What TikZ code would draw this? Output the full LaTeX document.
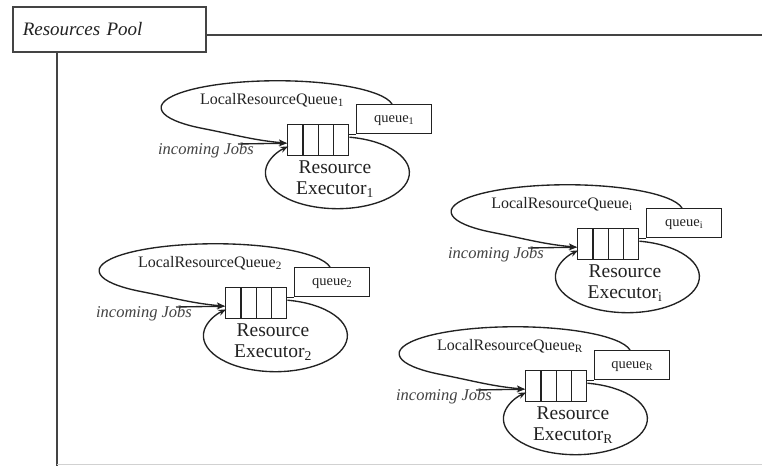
\documentclass[tikz,border=0pt]{standalone}
\usepackage{fontspec}
\setmainfont{Liberation Serif}
\usetikzlibrary{arrows.meta,calc}
\definecolor{ink}{HTML}{222222}
\definecolor{frameink}{HTML}{444444}
\tikzset{
  frameline/.style={line width=2pt, draw=frameink},
  titlebox/.style={draw=frameink, line width=1.6pt, anchor=north west, minimum width=193pt, minimum height=45pt,
    inner xsep=10pt, text width=173pt, align=left, font=\fontsize{19}{21}\selectfont\itshape, text=ink},
  qbox/.style={draw=ink, line width=1.4pt, minimum width=61pt, minimum height=31pt, inner sep=0pt, anchor=north west,
    path picture={\foreach \k in {1,2,3}{\draw[ink, line width=1.3pt]
      ($(path picture bounding box.north west)!\k/4!(path picture bounding box.north east)$) --
      ($(path picture bounding box.south west)!\k/4!(path picture bounding box.south east)$);}}},
  lbox/.style={draw=ink, line width=1.4pt, minimum width=75pt, minimum height=29pt, inner sep=0pt, anchor=north west,
    text height=8pt, text depth=1.5pt, font=\fontsize{14.5}{16}\selectfont, text=ink},
  lrqtext/.style={inner sep=0pt, font=\fontsize{16}{18}\selectfont, text=ink},
  exectext/.style={inner sep=0pt, align=center, font=\fontsize{19.5}{21}\selectfont, text=ink},
  inctext/.style={inner sep=0pt, font=\fontsize{16.5}{18}\selectfont\itshape, text=ink!85},
  ringline/.style={draw=ink, line width=1.35pt},
  stubline/.style={draw=ink, line width=1.3pt},
  tip/.style={-{Stealth[length=8pt,width=6pt]}}
}
\newcommand{\rpunit}[3]{%
\begin{scope}[shift={#2}]
  \node[qbox] (q#1) at (0,0) {};
  \node[lbox] (l#1) at (69,20) {queue\textsubscript{#3}};
  \node[lrqtext] (t#1) at (-15,24) {LocalResourceQueue\textsubscript{#3}};
  \node[exectext] (e#1) at (48,-55.5) {Resource\\Executor\textsubscript{#3}};
  \node[inctext] (i#1) at (-81,-27) {incoming Jobs};
  \coordinate (s#1) at (-49,-20);
  \draw[stubline] (q#1.north east |- l#1.south west) -- (l#1.south west);
  \draw[ringline,tip] ([xshift=36pt]l#1.north west)
     arc[start angle=8, end angle=230, x radius=116pt, y radius=27pt]
     to[out=-11, in=175] ([yshift=-3pt]q#1.west);
  \draw[ringline,tip] ([yshift=3pt]q#1.east)
     arc[start angle=80.4, end angle=-227, x radius=72pt, y radius=36pt];
  \draw[ringline,tip] (s#1) -- ([yshift=-3pt]q#1.west);
\end{scope}}
\begin{document}
\begin{tikzpicture}[x=1pt,y=1pt]
  \useasboundingbox (0,0) rectangle (762,466);
  \fill[white] (0,0) rectangle (762,466);
  % frame
  \node[titlebox] (title) at (12,460) {Resources Pool};
  \coordinate (tr) at (762,431);
  \coordinate (bl) at (57,0);
  \coordinate (br) at (762,1.5);
  \draw[frameline] (title.east |- tr) -- (tr);
  \draw[frameline] (title.south -| bl) -- (bl);
  \draw[black!18, line width=1pt] (bl |- br) -- (br);
  % units
  \rpunit{1}{(287,342)}{1}
  \rpunit{2}{(225,179)}{2}
  \rpunit{i}{(577,238)}{i}
  \rpunit{R}{(525,96)}{R}
\end{tikzpicture}
\end{document}
